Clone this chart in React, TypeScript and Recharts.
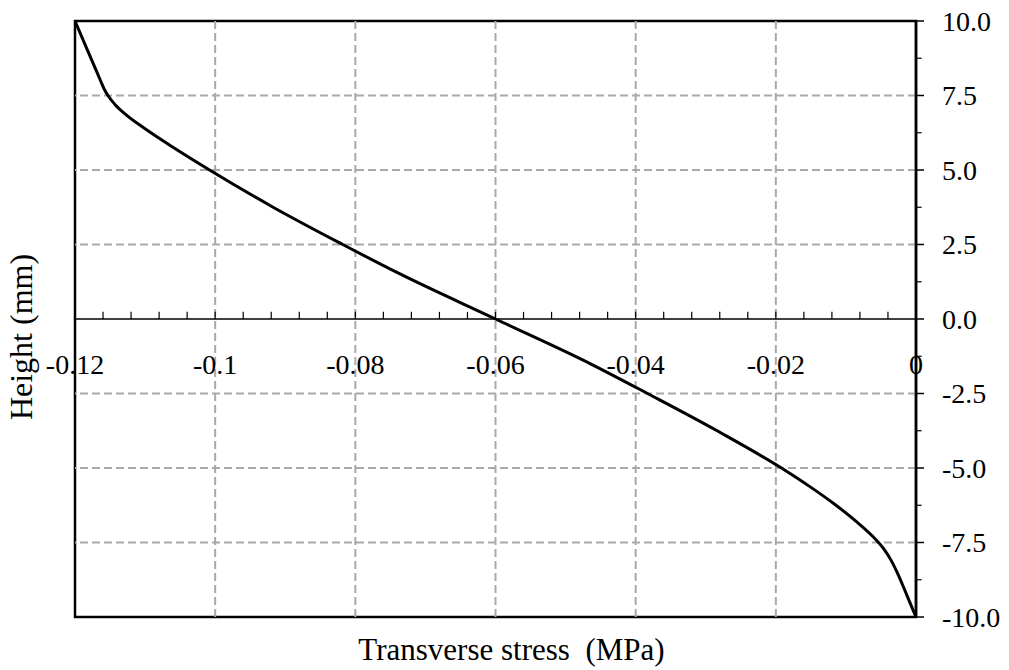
import React from 'react';
import {
  LineChart,
  Line,
  XAxis,
  YAxis,
  ReferenceLine,
  ReferenceDot,
  ReferenceArea,
  Label,
} from 'recharts';

// Transverse stress (MPa) and height (mm) along the curve
const stressValues = [
  -0.12, -0.11818, -0.11672, -0.11618, -0.1158, -0.1153, -0.1143, -0.1127, -0.1101,
  -0.1058, -0.1008, -0.0918, -0.0818, -0.0737, -0.06, -0.0463, -0.0383, -0.0283,
  -0.0192, -0.0153, -0.0117, -0.0085, -0.00615, -0.00465, -0.00355, -0.0025,
  -0.00125, 0,
];
const heightValues = [
  10, 9.0, 8.2, 7.9, 7.7, 7.5, 7.2, 6.85, 6.4, 5.73, 5.0, 3.76, 2.5, 1.52, 0,
  -1.52, -2.5, -3.76, -5.0, -5.6, -6.2, -6.8, -7.3, -7.7, -8.1, -8.6, -9.3, -10,
];

const xMajorTicks = [-0.12, -0.1, -0.08, -0.06, -0.04, -0.02, 0];
const xTickLabels = ['-0.12', '-0.1', '-0.08', '-0.06', '-0.04', '-0.02', '0'];
const xSmallTicks = [
  -0.116, -0.112, -0.108, -0.104, -0.1, -0.096, -0.092, -0.088, -0.084, -0.08,
  -0.076, -0.072, -0.068, -0.064, -0.06, -0.056, -0.052, -0.048, -0.044, -0.04,
  -0.036, -0.032, -0.028, -0.024, -0.02, -0.016, -0.012, -0.008, -0.004,
];
const yMajorTicks = [-10, -7.5, -5, -2.5, 0, 2.5, 5, 7.5, 10];
const yMinorTicks = [-8.75, -6.25, -3.75, -1.25, 1.25, 3.75, 6.25, 8.75];
const xGridValues = [-0.1, -0.08, -0.06, -0.04, -0.02];
const yGridValues = [-7.5, -5, -2.5, 2.5, 5, 7.5];

const xDomain = [-0.12, 0];
const yDomain = [-10, 10];

const data = stressValues.map((x, i) => ({ x, y: heightValues[i] }));

const FONT = '"Liberation Serif", "Times New Roman", Times, serif';
const GRID = '#a9a9a9';

export default function App() {
  return (
    <div style={{ position: 'absolute', left: 0, top: 0, width: 1009, height: 670, background: '#fff' }}>
      <LineChart
        width={1009}
        height={670}
        data={data}
        margin={{ top: 21, right: 1, left: 0, bottom: 0 }}
      >
        <XAxis
          dataKey="x"
          type="number"
          domain={xDomain}
          ticks={xMajorTicks}
          allowDataOverflow
          height={53}
          axisLine={false}
          tickLine={false}
          tick={false}
        >
          <Label
            content={({ viewBox }: any) => (
              <text
                x={viewBox.x + viewBox.width / 2 + 16}
                y={viewBox.y + viewBox.height - 10}
                textAnchor="middle"
                fontFamily={FONT}
                fontSize={31}
                fill="#000"
              >
                Transverse stress{'\u00a0\u00a0'}(MPa)
              </text>
            )}
          />
        </XAxis>
        <YAxis
          yAxisId="left"
          orientation="left"
          type="number"
          domain={yDomain}
          width={75}
          axisLine={false}
          tickLine={false}
          tick={false}
        >
          <Label
            content={({ viewBox }: any) => {
              const cx = 32;
              const cy = viewBox.y + viewBox.height / 2 + 18;
              return (
                <text
                  x={cx}
                  y={cy}
                  transform={`rotate(-90, ${cx}, ${cy})`}
                  textAnchor="middle"
                  fontFamily={FONT}
                  fontSize={32}
                  fill="#000"
                >
                  Height (mm)
                </text>
              );
            }}
          />
        </YAxis>
        <YAxis
          orientation="right"
          type="number"
          domain={yDomain}
          ticks={yMajorTicks}
          allowDataOverflow
          width={92}
          axisLine={{ stroke: '#000', strokeWidth: 2.5 }}
          tickLine={{ stroke: '#000', strokeWidth: 1.5 }}
          tickSize={8}
          tickMargin={18}
          tickFormatter={(v: number) => v.toFixed(1)}
          tick={{ fill: '#000', fontSize: 28, fontFamily: FONT }}
        />
        {yGridValues.map((v) => (
          <ReferenceLine
            key={`hg${v}`}
            y={v}
            stroke={GRID}
            strokeWidth={2}
            strokeDasharray="8 4"
          />
        ))}
        {xGridValues.map((v) => (
          <ReferenceLine
            key={`vg${v}`}
            x={v}
            stroke={GRID}
            strokeWidth={2}
            strokeDasharray="8 4"
          />
        ))}
        <ReferenceArea
          x1={xDomain[0]}
          x2={xDomain[1]}
          y1={yDomain[0]}
          y2={yDomain[1]}
          fill="none"
          fillOpacity={0}
          stroke="#000"
          strokeWidth={2.5}
        />
        <ReferenceLine y={0} stroke="#000" strokeWidth={1.5} />
        {xSmallTicks.map((v) => (
          <ReferenceLine
            key={`xt${v}`}
            segment={[
              { x: v, y: 0 },
              { x: v, y: 0.24 },
            ]}
            stroke="#000"
            strokeWidth={1.2}
          />
        ))}
        {yMinorTicks.map((v) => (
          <ReferenceLine
            key={`yt${v}`}
            ifOverflow="visible"
            segment={[
              { x: 0, y: v },
              { x: 0.0008, y: v },
            ]}
            stroke="#000"
            strokeWidth={1.2}
          />
        ))}
        {xMajorTicks.map((v, i) => (
          <ReferenceDot
            key={`xl${v}`}
            x={v}
            y={0}
            r={0}
            fill="none"
            stroke="none"
            label={{
              value: xTickLabels[i],
              position: 'bottom',
              offset: 35,
              fill: '#000',
              fontSize: 28,
              fontFamily: FONT,
            }}
          />
        ))}
        <Line
          type="monotone"
          dataKey="y"
          stroke="#000"
          strokeWidth={3}
          dot={false}
          isAnimationActive={false}
        />
      </LineChart>
    </div>
  );
}
